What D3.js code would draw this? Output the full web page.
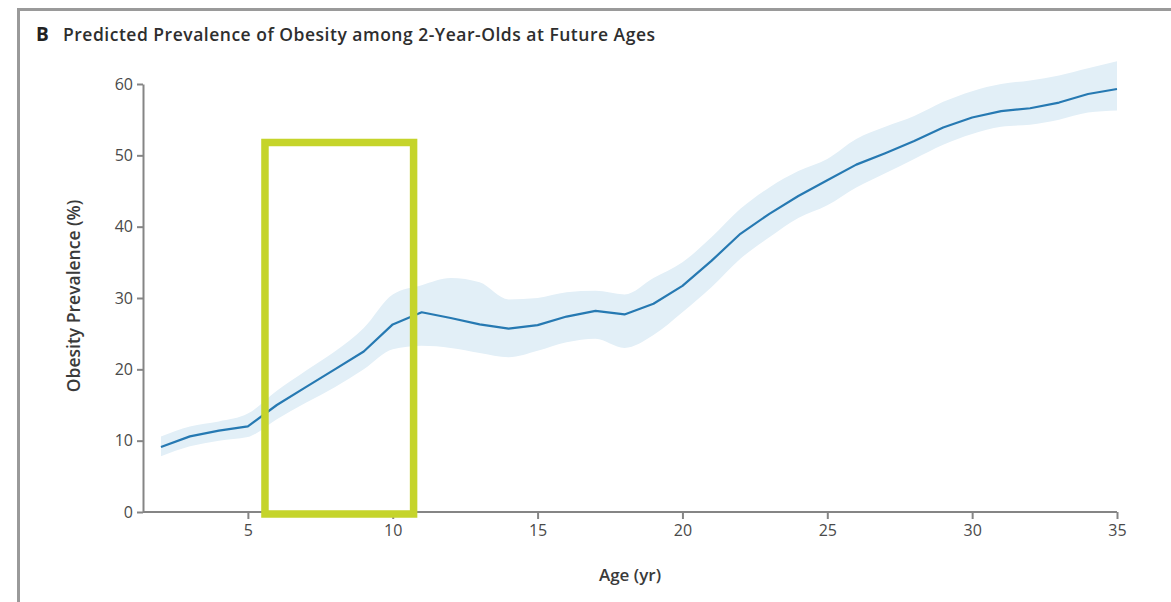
<!DOCTYPE html>
<html>
<head>
<meta charset="utf-8">
<script src="https://cdn.jsdelivr.net/npm/d3@7"></script>
<style>
  body { margin: 0; background: #fff; }
  text { font-family: "Open Sans", "Noto Sans", sans-serif; fill: #3a3a3a; }
  .axis path, .axis line { stroke: #858585; stroke-width: 2; }
  .axis text { font-size: 16px; fill: #4a4a4a; }
</style>
</head>
<body>
<div id="grafica"></div>
<script>
// Datos
edades   = [2, 3, 4, 5, 6, 7, 8, 9, 10, 11, 12, 13, 14, 15, 16, 17, 18, 19, 20,
            21, 22, 23, 24, 25, 26, 27, 28, 29, 30, 31, 32, 33, 34, 35]
prevalencia = [9.1, 10.6, 11.4, 12.0, 15.0, 17.5, 20.0, 22.5, 26.3, 28.0, 27.2, 26.3, 25.7, 26.2,
               27.4, 28.2, 27.7, 29.2, 31.7, 35.2, 39.0, 41.8, 44.3, 46.5, 48.7, 50.3, 52.0,
               53.9, 55.3, 56.2, 56.6, 57.4, 58.6, 59.3]
limInferior = [7.8, 9.2, 10.0, 10.5, 13.0, 15.3, 17.5, 20.0, 22.8, 23.3, 23.0, 22.3, 21.7, 22.6,
               23.8, 24.3, 23.0, 24.8, 28.0, 31.5, 35.5, 38.5, 41.2, 43.0, 45.5, 47.5, 49.5,
               51.5, 53.0, 54.0, 54.3, 55.0, 56.0, 56.3]
limSuperior = [10.6, 12.0, 12.7, 13.8, 17.0, 19.8, 22.5, 25.8, 30.5, 31.8, 32.8, 32.2, 29.8, 30.0,
               30.8, 31.0, 30.5, 32.8, 35.0, 38.5, 42.5, 45.5, 47.8, 49.5, 52.3, 54.0, 55.5,
               57.5, 59.0, 60.0, 60.5, 61.2, 62.2, 63.2]
ticksX = [5, 10, 15, 20, 25, 30, 35]
ticksY = [0, 10, 20, 30, 40, 50, 60]
// Recuadro verde (en unidades de datos)
recuadro = { x0: 5.59, x1: 10.72, y0: -0.28, y1: 51.8 }

anchototal = 1171
altototal  = 602

margin = { top: 84, left: 143, right: 54, bottom: 90 }

svg = d3.select('#grafica')
  .append('svg')
  .attr('width', anchototal)
  .attr('height', altototal)

// Marco gris
svg.append('path')
  .attr('d', `M18.5,${altototal} V9.5 H${anchototal}`)
  .attr('fill', 'none')
  .attr('stroke', '#9a9a9a')
  .attr('stroke-width', 3)

titulo = svg.append('text')
  .attr('x', 36)
  .attr('y', 41)
titulo.append('tspan')
  .attr('font-weight', 700)
  .attr('font-size', '19px')
  .attr('fill', '#222')
  .text('B')
titulo.append('tspan')
  .attr('x', 63)
  .attr('font-weight', 600)
  .attr('font-size', '17.5px')
  .attr('fill', '#2e2e2e')
  .attr('textLength', 592)
  .attr('lengthAdjust', 'spacing')
  .text('Predicted Prevalence of Obesity among 2-Year-Olds at Future Ages')

x = d3.scaleLinear().domain([1.38, 35]).range([margin.left, anchototal - margin.right])
y = d3.scaleLinear().domain([0, 60]).range([altototal - margin.bottom, margin.top])

datos = edades.map((e, i) => ({ edad: e, v: prevalencia[i], lo: limInferior[i], hi: limSuperior[i] }))

area = d3.area()
  .x(d => x(d.edad))
  .y0(d => y(d.lo))
  .y1(d => y(d.hi))
  .curve(d3.curveMonotoneX)

linea = d3.line()
  .x(d => x(d.edad))
  .y(d => y(d.v))

svg.append('path')
  .attr('d', area(datos))
  .attr('fill', '#e2eff7')

svg.append('path')
  .attr('d', linea(datos))
  .attr('fill', 'none')
  .attr('stroke', '#2679b2')
  .attr('stroke-width', 2.2)
  .attr('stroke-linejoin', 'round')

xAxis = svg.append('g')
  .attr('class', 'axis')
  .attr('transform', `translate(0, ${y(0)})`)
  .call(d3.axisBottom(x).tickValues(ticksX).tickSize(7).tickPadding(6).tickSizeOuter(0))
xAxis.select('.domain').attr('d', `M${x(1.38)},0H${x(35)}`)

yAxis = svg.append('g')
  .attr('class', 'axis')
  .attr('transform', `translate(${x(1.38)}, 0)`)
  .call(d3.axisLeft(y).tickValues(ticksY).tickSize(6).tickPadding(4).tickSizeOuter(0))

svg.append('text')
  .attr('x', 630)
  .attr('y', 581)
  .attr('text-anchor', 'middle')
  .attr('font-size', '17px')
  .attr('font-weight', 600)
  .text('Age (yr)')

svg.append('text')
  .attr('transform', `translate(80, ${y(30) - 2}) rotate(-90)`)
  .attr('text-anchor', 'middle')
  .attr('font-size', '17.5px')
  .attr('font-weight', 600)
  .text('Obesity Prevalence (%)')

svg.append('rect')
  .attr('x', x(recuadro.x0))
  .attr('y', y(recuadro.y1))
  .attr('width', x(recuadro.x1) - x(recuadro.x0))
  .attr('height', y(recuadro.y0) - y(recuadro.y1))
  .attr('fill', 'none')
  .attr('stroke', '#c5d42b')
  .attr('stroke-width', 7.5)
</script>
</body>
</html>
